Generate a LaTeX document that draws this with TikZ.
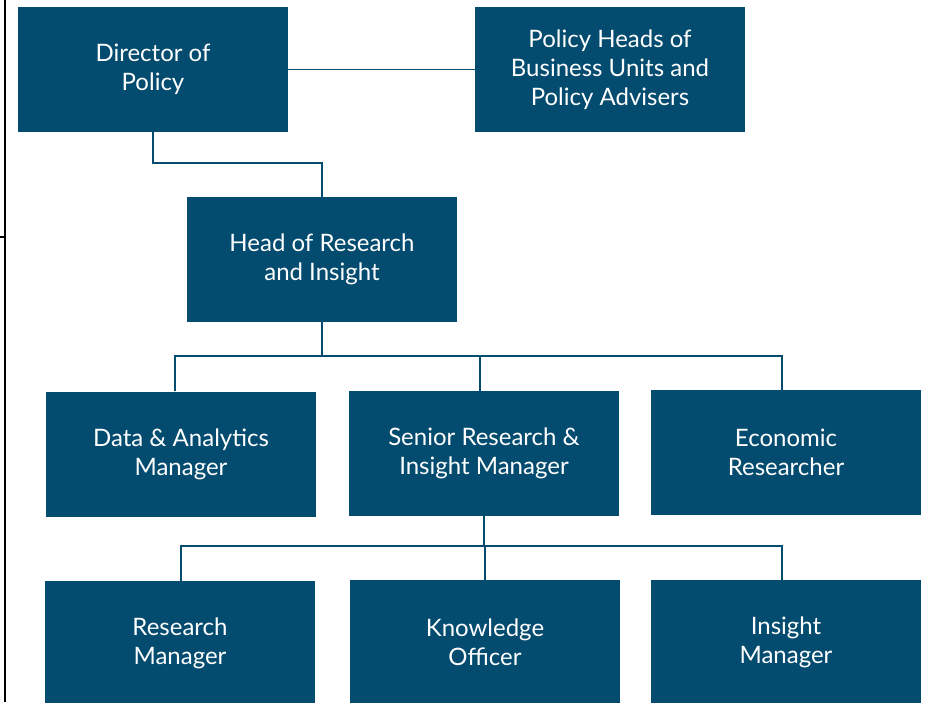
\documentclass[tikz,border=0pt]{standalone}
\usepackage{fontspec}
\setmainfont{Lato}
\definecolor{orgblue}{RGB}{3,75,111}

\begin{document}
\begin{tikzpicture}[x=1pt,y=-1pt,
    role/.style={fill=orgblue, text=white, minimum width=270pt, minimum height=125pt,
        align=center, inner sep=0pt, font=\fontsize{24}{29}\selectfont},
    link/.style={draw=orgblue, line width=1.5pt}]
    \useasboundingbox (0,0) rectangle (928,702);

    % Left border of the page
    \draw[line width=1.3pt] (5,0) -- (5,702);
    \draw[line width=1.3pt] (0,237) -- (5,237);

    % Top row
    \node[role] (dir) at (153,69.5) {Director of\\Policy};
    \node[role] (pol) at (610,69.5) {Policy Heads of\\Business Units and\\Policy Advisers};
    \draw[link] (dir.east) -- (pol.west);

    % Head of Research and Insight
    \node[role] (head) at (322,259.5) {Head of Research\\and Insight};
    \draw[link] (dir.south) -- ++(0,31) -| (head.north);

    % Middle row
    \node[role] (data) at (181,454) {Data \& Analytics\\Manager};
    \node[role] (senior) at (484,453.5) {Senior Research \&\\Insight Manager};
    \node[role] (econ) at (786,452.5) {Economic\\Researcher};
    \draw[link] (head.south) -- ++(0,34) coordinate (hbus);
    \draw[link] (hbus) -| ([xshift=-6pt]data.north);
    \draw[link] (hbus) -| ([xshift=-4pt]senior.north);
    \draw[link] (hbus) -| ([xshift=-4pt]econ.north);

    % Bottom row
    \node[role] (resm) at (180,643.5) {Research\\Manager};
    \node[role] (know) at (485,642.5) {Knowledge\\Officer};
    \node[role] (insm) at (786,642.5) {Insight\\Manager};
    \draw[link] (senior.south) -- ++(0,30) coordinate (sbus);
    \draw[link] (sbus) -| ([xshift=1pt]resm.north);
    \draw[link] (sbus) -| (know.north);
    \draw[link] (sbus) -| ([xshift=-4pt]insm.north);
\end{tikzpicture}
\end{document}
